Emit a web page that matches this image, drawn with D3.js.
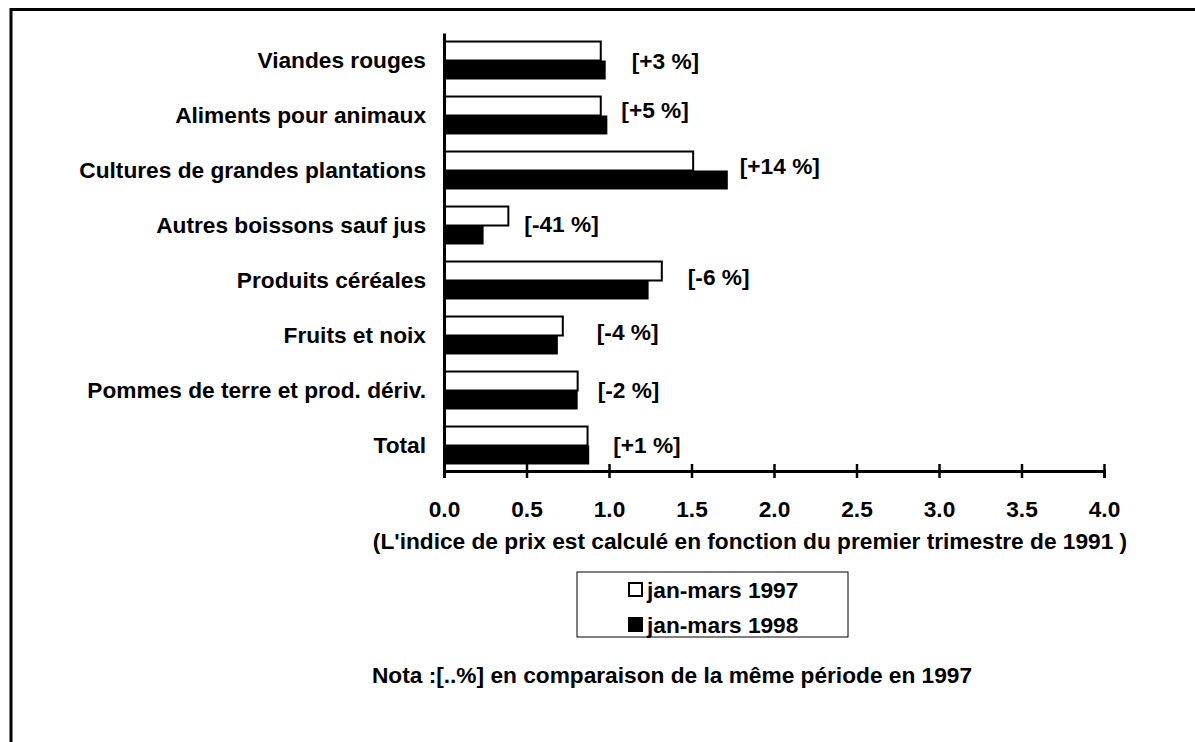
<!DOCTYPE html>
<html>
<head>
<meta charset="utf-8">
<script src="https://cdn.jsdelivr.net/npm/d3@7"></script>
<style>
  body { margin: 0; background: #fff; }
  svg text { font-family: "Liberation Sans", Arial, sans-serif; font-weight: bold; fill: #000; }
</style>
</head>
<body>
<div id="chart"></div>
<script>
// data
const categories = ["Viandes rouges", "Aliments pour animaux", "Cultures de grandes plantations",
  "Autres boissons sauf jus", "Produits céréales", "Fruits et noix",
  "Pommes de terre et prod. dériv.", "Total"];
const values1997 = [0.95, 0.95, 1.51, 0.39, 1.32, 0.72, 0.81, 0.87];
const values1998 = [0.98, 0.99, 1.72, 0.24, 1.24, 0.69, 0.81, 0.88];
const changes = ["[+3 %]", "[+5 %]", "[+14 %]", "[-41 %]", "[-6 %]", "[-4 %]", "[-2 %]", "[+1 %]"];
const series = ["jan-mars 1997", "jan-mars 1998"];
const xTicks = [0, 0.5, 1, 1.5, 2, 2.5, 3, 3.5, 4];

// label placement tweaks (pixels) for the bracketed notes
const labelGap = [26, 14, 12, 16, 26, 34, 20, 24];
const labelShift = [1, -5, -4, -1, -3, -3, 0, 0];

const W = 1195, H = 742;
const axisY = 471;
const fs = 22.7;

const svg = d3.select("#chart")
  .append("svg")
    .attr("width", W)
    .attr("height", H);

// frame
svg.append("path")
    .attr("d", `M11,${H} V9.5 H${W}`)
    .attr("fill", "none")
    .attr("stroke", "#000")
    .attr("stroke-width", 3);

const xScale = d3.scaleLinear().domain([0, 4]).range([444, 1104]);
const yScale = d3.scaleBand()
    .domain(categories)
    .range([33, 473])
    .paddingInner(0.31)
    .paddingOuter(0.155);
const subScale = d3.scaleBand().domain(series).range([0, yScale.bandwidth()]);

const rows = categories.map((c, i) => ({
  cat: c, v: [values1997[i], values1998[i]], note: changes[i], i: i
}));

// bars
const group = svg.append("g").selectAll("g")
  .data(rows)
  .join("g")
    .attr("transform", d => `translate(0, ${yScale(d.cat)})`);

group.append("rect")
    .attr("x", xScale(0))
    .attr("y", subScale(series[0]))
    .attr("width", d => xScale(d.v[0]) - xScale(0))
    .attr("height", subScale.bandwidth())
    .attr("fill", "#fff")
    .attr("stroke", "#000")
    .attr("stroke-width", 2);

group.append("rect")
    .attr("x", xScale(0))
    .attr("y", subScale(series[1]))
    .attr("width", d => xScale(d.v[1]) - xScale(0))
    .attr("height", subScale.bandwidth())
    .attr("fill", "#000");

// bracketed change notes
group.append("text")
    .attr("x", d => xScale(d3.max(d.v)) + labelGap[d.i])
    .attr("y", d => yScale.bandwidth() / 2 + labelShift[d.i])
    .attr("dy", "0.35em")
    .attr("font-size", fs)
    .text(d => d.note);

// y axis with category names
svg.append("g")
    .attr("transform", `translate(${xScale(0)}, 0)`)
    .call(d3.axisLeft(yScale).tickSize(0).tickPadding(18))
    .call(g => g.select(".domain").attr("stroke-width", 3))
    .call(g => g.selectAll(".tick text")
        .attr("font-size", fs)
        .attr("font-family", null));

// x axis with crossing ticks
svg.append("g")
    .attr("transform", `translate(0, ${axisY})`)
    .call(d3.axisBottom(xScale).tickValues(xTicks).tickFormat(d3.format(".1f")).tickSizeOuter(0).tickSize(7))
    .call(g => g.select(".domain").attr("stroke-width", 3))
    .call(g => g.selectAll(".tick line").attr("y1", -7).attr("y2", 7).attr("stroke-width", 2.5))
    .call(g => g.selectAll(".tick text")
        .attr("y", 46)
        .attr("dy", 0)
        .attr("font-size", fs)
        .attr("font-family", null));

// axis title
svg.append("text")
    .attr("x", 750)
    .attr("y", 549)
    .attr("text-anchor", "middle")
    .attr("font-size", fs)
    .text("(L'indice de prix est calculé en fonction du premier trimestre de 1991 )");

// legend
const legend = svg.append("g").attr("transform", "translate(577, 572)");
legend.append("rect")
    .attr("width", 271)
    .attr("height", 65)
    .attr("fill", "#fff")
    .attr("stroke", "#000")
    .attr("stroke-width", 1);

const item = legend.selectAll(".item")
  .data(series)
  .join("g")
    .attr("class", "item")
    .attr("transform", (d, i) => `translate(52, ${11 + i * 35})`);

item.append("rect")
    .attr("width", 13)
    .attr("height", 13)
    .attr("fill", (d, i) => i === 0 ? "#fff" : "#000")
    .attr("stroke", "#000")
    .attr("stroke-width", 2);

item.append("text")
    .attr("x", 18)
    .attr("y", 15)
    .attr("font-size", fs)
    .text(d => d);

// note
svg.append("text")
    .attr("x", 672)
    .attr("y", 683)
    .attr("text-anchor", "middle")
    .attr("font-size", fs)
    .text("Nota :[..%] en comparaison de la même période en 1997");
</script>
</body>
</html>
